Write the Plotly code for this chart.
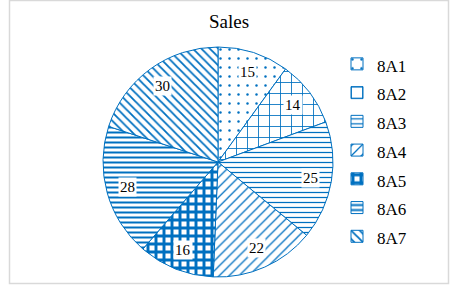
import math
import plotly.graph_objects as go

labels = ["8A1", "8A2", "8A3", "8A4", "8A5", "8A6", "8A7"]
values = [15, 14, 25, 22, 16, 28, 30]
shapes = [".", "+", "-", "/", "+", "-", "\\"]
sizes = [9, 11, 5, 7, 8, 5, 6]
solid = [0.06, 0.15, 0.25, 0.18, 0.6, 0.4, 0.3]
title = "Sales"

BLUE = "#0070C0"
SERIF = "Liberation Serif, Times New Roman, serif"
W, H = 474, 292
ML, MR, MT, MB = 0, 0, 47, 15
CX, R = 218, 115
dom_x = [(CX - R) / W, (CX + R) / W]

fig = go.Figure(go.Pie(
    labels=[f'<span style="font-size:17px">{l}</span>' for l in labels],
    values=values,
    sort=False,
    direction="clockwise",
    rotation=0,
    textinfo="none",
    hoverinfo="label+value",
    domain=dict(x=dom_x, y=[0, 1]),
    marker=dict(
        colors=["white"] * len(values),
        line=dict(color=BLUE, width=1),
        pattern=dict(shape=shapes, fgcolor=BLUE, bgcolor="white",
                     size=sizes, solidity=solid, fillmode="replace"),
    ),
    showlegend=True,
))

# value labels with white boxes at ~0.82 radius
total = sum(values)
cum = 0
ph = H - MT - MB
annotations = []
for v in values:
    mid = (cum + v / 2) / total * 2 * math.pi
    cum += v
    rr = 0.82 * R
    x = (CX + rr * math.sin(mid)) / W
    y = 0.5 + rr * math.cos(mid) / ph
    annotations.append(dict(
        x=x, y=y, xref="paper", yref="paper", text=str(v), showarrow=False,
        font=dict(family=SERIF, size=15, color="black"),
        bgcolor="white", borderpad=1, xanchor="center", yanchor="middle"))

fig.update_layout(
    width=W, height=H,
    margin=dict(l=ML, r=MR, t=MT, b=MB),
    paper_bgcolor="white",
    plot_bgcolor="white",
    font=dict(family=SERIF, color="black"),
    title=dict(text=title, x=229 / W, xanchor="center", y=1 - 21 / H,
               yanchor="middle", font=dict(family=SERIF, size=19, color="black")),
    legend=dict(
        x=337 / W, xanchor="left", y=(H - MB - 150.5) / ph, yanchor="middle",
        font=dict(family=SERIF, size=19.8, color="black"),
        bgcolor="rgba(0,0,0,0)", traceorder="normal",
    ),
    annotations=annotations,
    shapes=[dict(type="rect", xref="paper", yref="paper",
                 x0=9.5 / W, x1=448.5 / W,
                 y0=(H - MB - 283.5) / ph, y1=(H - MB - 0.5) / ph,
                 line=dict(color="#D9D9D9", width=1.5), fillcolor="rgba(0,0,0,0)",
                 layer="below")],
)

fig.write_html("out.html")
